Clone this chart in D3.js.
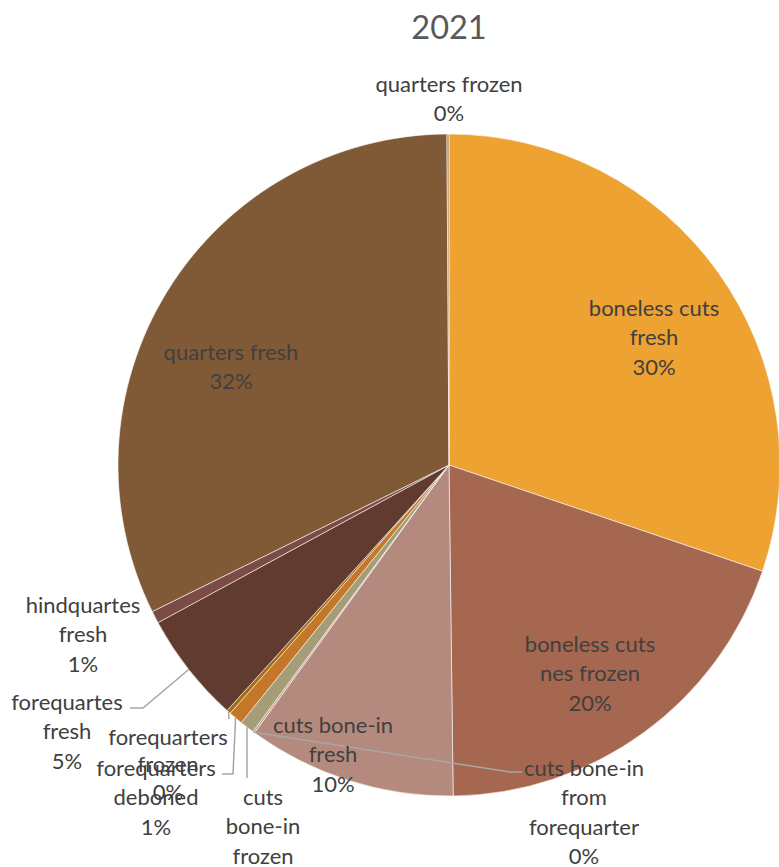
<!DOCTYPE html>
<html>
<head>
<meta charset="utf-8">
<script src="https://cdn.jsdelivr.net/npm/d3@7"></script>
<style>
  body { margin: 0; background: #fff; }
  text { font-family: Lato, "Open Sans", sans-serif; }
</style>
</head>
<body>
<div id="chart"></div>
<script>
// Datos del grafico (orden de las porciones, en sentido horario desde arriba)
const categories = [
  "boneless cuts fresh", "boneless cuts nes frozen", "cuts bone-in fresh",
  "cuts bone-in from forequarter", "cuts bone-in frozen", "forequarters deboned",
  "forequarters frozen", "forequartes fresh", "hindquartes fresh",
  "quarters fresh", "quarters frozen"
];
const shares = [30.2, 19.6, 10.2, 0.1, 0.7, 0.7, 0.2, 5.4, 0.6, 32.2, 0.1];
const labelLines = [
  ["boneless cuts", "fresh", "30%"],
  ["boneless cuts", "nes frozen", "20%"],
  ["cuts bone-in", "fresh", "10%"],
  ["cuts bone-in", "from", "forequarter", "0%"],
  ["cuts", "bone-in", "frozen", "1%"],
  ["forequarters", "deboned", "1%"],
  ["forequarters", "frozen", "0%"],
  ["forequartes", "fresh", "5%"],
  ["hindquartes", "fresh", "1%"],
  ["quarters fresh", "32%"],
  ["quarters frozen", "0%"]
];
const colors = ["#EEA231", "#A5674F", "#B58A7E", "#C9A08F", "#A59C78", "#C47729",
                "#A86D13", "#613B30", "#7B4C43", "#805A36", "#B88A55"];

// Configuracion del contenedor
const W = 779, H = 867;
const cx = 449, cy = 465, R = 331;
const lineH = 29.5;

// Posicion de las etiquetas (x, y de la primera linea) y de las lineas guia
const labelLayout = [
  { x: 654, y: 308 },
  { x: 590, y: 644 },
  { x: 333, y: 725 },
  { x: 584, y: 768, leader: [[510, 772], [522, 772]] },
  { x: 263, y: 797, leader: [[247, 778]] },
  { x: 156, y: 768, leader: [[233, 774], [222, 774]] },
  { x: 168, y: 737, dy: 27.5, leader: [[229, 719]] },
  { x: 67, y: 702, leader: [[143, 708], [130, 708]] },
  { x: 83, y: 605 },
  { x: 231, y: 352 },
  { x: 449, y: 84 }
];

const svg = d3.select("#chart").append("svg")
  .attr("width", W).attr("height", H);

svg.append("text")
  .attr("x", cx).attr("y", 28).attr("dy", "0.35em")
  .attr("text-anchor", "middle")
  .style("font-size", "32.5px").style("fill", "#595959")
  .text("2021");

const pie = d3.pie().sort(null).value(d => d)(shares);
const arc = d3.arc().innerRadius(0).outerRadius(R);

const g = svg.append("g").attr("transform", `translate(${cx}, ${cy})`);

g.selectAll("path.slice")
  .data(pie)
  .join("path")
    .attr("class", "slice")
    .attr("d", arc)
    .attr("fill", (d, i) => colors[i])
    .attr("stroke", "#ffffff")
    .attr("stroke-opacity", 0.7)
    .attr("stroke-width", 0.8);

// Lineas guia: desde el borde de la porcion hasta la etiqueta
pie.forEach((d, i) => {
  const lay = labelLayout[i];
  if (!lay.leader) return;
  const mid = (d.startAngle + d.endAngle) / 2;
  const start = [cx + R * Math.sin(mid), cy - R * Math.cos(mid)];
  svg.append("path")
    .attr("d", d3.line()([start, ...lay.leader]))
    .attr("fill", "none")
    .attr("stroke", "#A6A6A6")
    .attr("stroke-width", 1.5);
});

// Etiquetas
labelLines.forEach((lines, i) => {
  const lay = labelLayout[i];
  const t = svg.append("text")
    .attr("text-anchor", "middle")
    .style("font-size", "22px").style("fill", "#404040");
  lines.forEach((ln, j) => {
    t.append("tspan")
      .attr("x", lay.x)
      .attr("y", lay.y + j * (lay.dy || lineH))
      .attr("dy", "0.35em")
      .text(ln);
  });
});
</script>
</body>
</html>
